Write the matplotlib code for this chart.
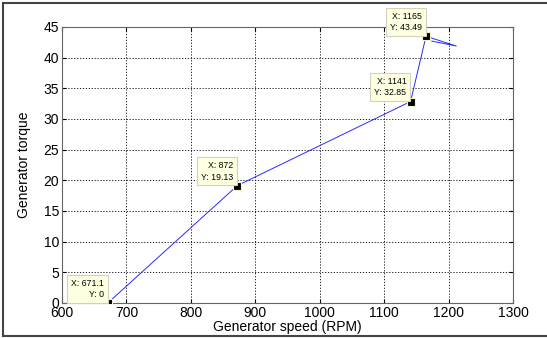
import numpy as np
import matplotlib.pyplot as plt
from matplotlib.lines import Line2D

plt.rcParams['font.family'] = ['Liberation Sans', 'DejaVu Sans']

# generator speed / torque trajectory
speed = [671.1, 872, 1141, 1165, 1212, 1174]
torque = [0, 19.13, 32.85, 43.49, 41.9, 42.7]

# data tips
tip_x = [671.1, 872, 1141, 1165]
tip_y = [0, 19.13, 32.85, 43.49]
tip_labels = ['X: 671.1\nY: 0', 'X: 872\nY: 19.13', 'X: 1141\nY: 32.85', 'X: 1165\nY: 43.49']

fig = plt.figure(figsize=(5.47, 3.38), dpi=100)
ax = fig.add_axes([62/547, 35/338, 451/547, 276/338])

ax.plot(speed, torque, color='#2a2aff', lw=0.7)
ax.plot(tip_x, tip_y, 's', ms=5.5, mfc='black', mec='#f5f5c8', mew=0.8, zorder=5)

for x, y, s in zip(tip_x, tip_y, tip_labels):
    ax.annotate(s, (x, y), xytext=(-3, 3), textcoords='offset points',
                ha='right', va='bottom', multialignment='right', fontsize=6.3,
                linespacing=1.3,
                bbox=dict(boxstyle='square,pad=0.45', fc='#ffffe1', ec='#d2d2bc', lw=0.8),
                zorder=6, clip_on=False)

ax.set_xlim(600, 1300)
ax.set_ylim(0, 45)
ax.set_xticks(np.arange(600, 1301, 100))
ax.set_yticks(np.arange(0, 46, 5))
ax.grid(True, color='black', linestyle=(0, (1.5, 2)), lw=0.6)
ax.tick_params(direction='in', labelsize=10, length=3, top=True, right=True, pad=2)
for sp in ax.spines.values():
    sp.set_color('#666666')
    sp.set_linewidth(0.8)

ax.set_xlabel('Generator speed (RPM)', fontsize=10, labelpad=0)
ax.set_ylabel('Generator torque', fontsize=10, labelpad=9)

# outer frame
fig.add_artist(Line2D([3/547, 3/547], [2/338, 335/338], color='#444444', lw=1.5))
fig.add_artist(Line2D([3/547, 1], [335/338, 335/338], color='#444444', lw=1.5))
fig.add_artist(Line2D([3/547, 1], [2/338, 2/338], color='#444444', lw=1.5))

fig.savefig('out.png', dpi=100)
